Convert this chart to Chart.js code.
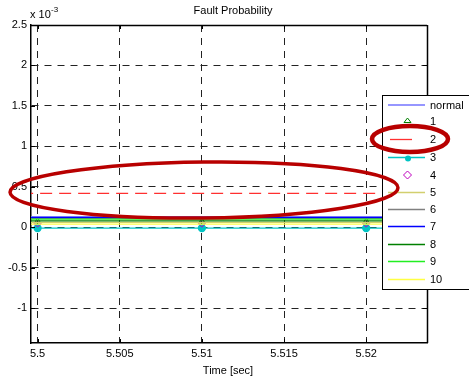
<!DOCTYPE html>
<html><head><meta charset="utf-8">
<script src="https://cdn.jsdelivr.net/npm/chart.js@4/dist/chart.umd.min.js"></script>
<style>html,body{margin:0;padding:0;background:#fff}#wrap{width:469px;height:380px}</style>
</head><body><div id="wrap"><canvas id="c" width="469" height="380"></canvas></div>
<script>
// Data (values in units of 1e-3)
const times = [5.499, 5.5, 5.51, 5.52, 5.525];
const seriesNames = ['normal','1','2','3','4','5','6','7','8','9','10'];
const normalVals = [0.13, 0.13, 0.13, 0.13, 0.13];
const s1Vals = [0.075, 0.075, 0.075, 0.075, 0.075];
const s2Vals = [0.42, 0.42, 0.42, 0.42, 0.42];
const s3Vals = [-0.01, -0.01, -0.01, -0.01, -0.01];
const s4Vals = [0.045, 0.045, 0.045, 0.045, 0.045];
const s5Vals = [0.06, 0.06, 0.06, 0.06, 0.06];
const s6Vals = [0.11, 0.11, 0.11, 0.11, 0.11];
const s7Vals = [0.12, 0.12, 0.12, 0.12, 0.12];
const s8Vals = [0.08, 0.08, 0.08, 0.08, 0.08];
const s9Vals = [0.10, 0.10, 0.10, 0.10, 0.10];
const s10Vals = [0.04, 0.04, 0.04, 0.04, 0.04];
const xTicks = [5.5, 5.505, 5.51, 5.515, 5.52];
const xTickLabels = ['5.5', '5.505', '5.51', '5.515', '5.52'];
const yTicks = [-1, -0.5, 0, 0.5, 1, 1.5, 2, 2.5];
const yTickLabels = ['-1', '-0.5', '0', '0.5', '1', '1.5', '2', '2.5'];

const FONT = '"Liberation Sans", Arial, sans-serif';
const colors = {normal:'#7373ff','1':'#008000','2':'#ff3030','3':'#00c4c4','4':'#c000c0','5':'#d2cf6e','6':'#808080','7':'#0000ff','8':'#008000','9':'#22ee22','10':'#ffff44'};
const mk = (i)=> (i>0 && i<4);
function ds(name, vals, extra){
  return Object.assign({label:name, data: vals.map((v,i)=>({x:times[i], y:v})), borderColor:colors[name], backgroundColor:colors[name], borderWidth:1.3, pointRadius:0, showLine:true, tension:0}, extra||{});
}
const datasets = [
  ds('10', s10Vals),
  ds('9', s9Vals),
  ds('8', s8Vals),
  ds('7', s7Vals),
  ds('6', s6Vals),
  ds('5', s5Vals),
  ds('4', s4Vals, {showLine:false, pointStyle:'rectRot', pointRadius:c=>mk(c.dataIndex)?3.5:0, backgroundColor:'rgba(0,0,0,0)', borderWidth:1}),
  ds('3', s3Vals, {pointStyle:'circle', pointRadius:c=>mk(c.dataIndex)?3.5:0}),
  ds('2', s2Vals, {borderDash:[12,7], borderWidth:1.2}),
  ds('1', s1Vals, {showLine:false, pointStyle:'triangle', pointRadius:c=>mk(c.dataIndex)?3.5:0, backgroundColor:'rgba(0,0,0,0)', borderWidth:1}),
  ds('normal', normalVals),
];

const decor = {
  id:'decor',
  afterDraw(chart){
    const ctx = chart.ctx, a = chart.chartArea;
    const xs = chart.scales.x, ysc = chart.scales.y;
    ctx.save();
    // box top/right
    ctx.strokeStyle='#000'; ctx.lineWidth=1.5;
    ctx.beginPath();
    ctx.moveTo(a.left, a.top+0.5); ctx.lineTo(a.right, a.top+0.5);
    ctx.moveTo(a.right+0.5, a.top); ctx.lineTo(a.right+0.5, a.bottom);
    ctx.stroke();
    // inner tick marks
    ctx.lineWidth=1;
    ctx.beginPath();
    yTicks.forEach(v=>{const p=Math.round(ysc.getPixelForValue(v))+0.5;
      ctx.moveTo(a.left,p); ctx.lineTo(a.left+4,p); ctx.moveTo(a.right,p); ctx.lineTo(a.right-4,p);});
    xTicks.forEach(v=>{const p=Math.round(xs.getPixelForValue(v))+0.5;
      ctx.moveTo(p,a.bottom); ctx.lineTo(p,a.bottom-4); ctx.moveTo(p,a.top); ctx.lineTo(p,a.top+4);});
    ctx.stroke();
    // texts
    ctx.fillStyle='#000';
    ctx.font='11px '+FONT;
    ctx.textAlign='center'; ctx.textBaseline='middle';
    ctx.fillText('Fault Probability', 233, 11);
    ctx.fillText('Time [sec]', 228, 371);
    ctx.textAlign='left';
    ctx.fillText('x 10', 30, 15);
    ctx.font='8px '+FONT;
    ctx.fillText('-3', 51, 10);
    // legend
    const lx=382, ly=95, lw=95, lh=194;
    ctx.fillStyle='#fff'; ctx.fillRect(lx, ly, lw, lh);
    ctx.strokeStyle='#000'; ctx.lineWidth=1;
    ctx.strokeRect(lx+0.5, ly+0.5, lw, lh);
    const ys=[104.5,121,139,157,175,192,209,226,244,261,279];
    ctx.font='11px '+FONT; ctx.textBaseline='middle'; ctx.textAlign='left';
    seriesNames.forEach((n,i)=>{
      const y=ys[i], c=colors[n];
      ctx.strokeStyle=c; ctx.fillStyle=c; ctx.lineWidth=1.3;
      if(n==='1'){
        ctx.lineWidth=1;
        ctx.beginPath(); ctx.moveTo(404,y+1.5); ctx.lineTo(407.5,y-3); ctx.lineTo(411,y+1.5); ctx.closePath(); ctx.stroke();
      } else if(n==='4'){
        ctx.lineWidth=1;
        ctx.beginPath(); ctx.moveTo(407.5,y-4); ctx.lineTo(411.5,y); ctx.lineTo(407.5,y+4); ctx.lineTo(403.5,y); ctx.closePath(); ctx.stroke();
      } else if(n==='2'){
        ctx.beginPath(); ctx.moveTo(390,y+0.5); ctx.lineTo(412,y+0.5); ctx.stroke();
      } else {
        ctx.beginPath(); ctx.moveTo(388,y+0.5); ctx.lineTo(425,y+0.5); ctx.stroke();
        if(n==='3'){ ctx.beginPath(); ctx.arc(408,y+1.5,3,0,Math.PI*2); ctx.fill(); }
      }
      ctx.fillStyle='#000';
      ctx.fillText(n, 430, y+1);
    });
    // red annotation ellipses
    ctx.strokeStyle='#b80000';
    ctx.lineWidth=3.5;
    ctx.beginPath(); ctx.ellipse(204, 190, 194, 28, -0.012, 0, Math.PI*2); ctx.stroke();
    ctx.lineWidth=4.5;
    ctx.beginPath(); ctx.ellipse(410, 139, 38, 13, 0, 0, Math.PI*2); ctx.stroke();
    ctx.restore();
  }
};

new Chart(document.getElementById('c'), {
  type:'scatter',
  data:{datasets},
  options:{
    responsive:false, animation:false,
    layout:{padding:{top:25, right:42, left:0, bottom:0}},
    plugins:{legend:{display:false}, tooltip:{enabled:false}, title:{display:false}},
    scales:{
      x:{type:'linear', min:5.4996, max:5.5237,
        afterBuildTicks:s=>{s.ticks = xTicks.map(v=>({value:v}));},
        afterFit:s=>{s.height=37;},
        ticks:{callback:(v,i)=>xTickLabels[i], color:'#000', font:{family:FONT, size:11}, padding:4, maxRotation:0, autoSkip:false},
        grid:{color:'#222', lineWidth:1, drawTicks:false},
        border:{display:true, color:'#000', width:1.5, dash:[7,6]}
      },
      y:{type:'linear', min:-1.43, max:2.5,
        afterBuildTicks:s=>{s.ticks = yTicks.map(v=>({value:v}));},
        afterFit:s=>{s.width=31;},
        ticks:{callback:(v,i)=>yTickLabels[i], color:'#000', font:{family:FONT, size:11}, padding:4, autoSkip:false},
        grid:{color:'#222', lineWidth:1, drawTicks:false},
        border:{display:true, color:'#000', width:1.5, dash:[7,6]}
      }
    }
  },
  plugins:[decor]
});
</script></body></html>
